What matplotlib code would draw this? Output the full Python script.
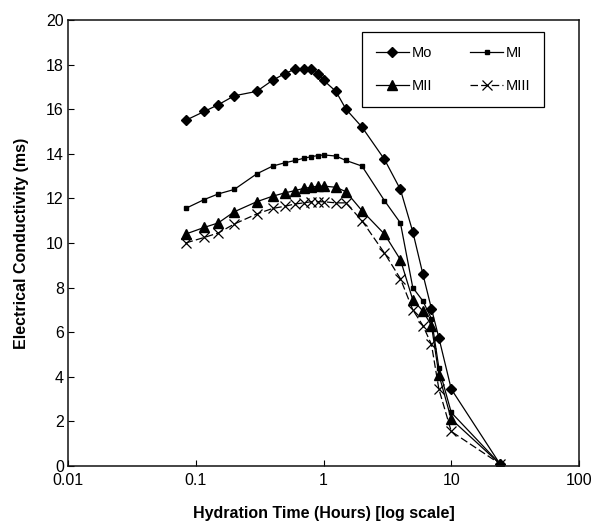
import matplotlib
matplotlib.use("Agg")
import matplotlib.pyplot as plt
from matplotlib.ticker import FixedLocator, FixedFormatter, NullLocator

plt.rcParams['font.family'] = ['Liberation Sans', 'DejaVu Sans']

# Hydration time (hours)
hours = [0.0833, 0.1167, 0.15, 0.2, 0.3, 0.4, 0.5, 0.6, 0.7, 0.8, 0.9, 1.0,
         1.25, 1.5, 2, 3, 4, 5, 6, 7, 8, 10, 24]

mo   = [15.5, 15.9, 16.2, 16.6, 16.8, 17.3, 17.6, 17.8, 17.8, 17.8, 17.6, 17.3,
        16.8, 16.0, 15.2, 13.75, 12.4, 10.5, 8.6, 7.05, 5.75, 3.45, 0.1]
mi   = [11.55, 11.95, 12.2, 12.4, 13.1, 13.45, 13.6, 13.7, 13.8, 13.87, 13.92, 13.95,
        13.9, 13.7, 13.45, 11.9, 10.9, 8.0, 7.4, 6.6, 4.4, 2.4, 0.1]
mii  = [10.4, 10.7, 10.9, 11.4, 11.85, 12.1, 12.25, 12.35, 12.45, 12.5, 12.55, 12.55,
        12.5, 12.3, 11.45, 10.4, 9.25, 7.45, 6.95, 6.3, 4.1, 2.1, 0.1]
miii = [10.0, 10.25, 10.45, 10.85, 11.3, 11.55, 11.65, 11.75, 11.8, 11.85, 11.85, 11.85,
        11.8, 11.8, 11.0, 9.55, 8.4, 7.0, 6.3, 5.45, 3.45, 1.55, 0.1]

x_ticks = [0.01, 0.1, 1, 10, 100]
x_tick_labels = ['0.01', '0.1', '1', '10', '100']
y_ticks = [0, 2, 4, 6, 8, 10, 12, 14, 16, 18, 20]

fig = plt.figure(figsize=(5.95, 5.26), dpi=100)
ax = fig.add_axes([68/595, 1-466/526, (579-68)/595, (466-20)/526])

lw = 0.9
l_mo, = ax.plot(hours, mo, color='black', lw=lw, marker='D', ms=5.6, label='Mo')
l_mi, = ax.plot(hours, mi, color='black', lw=lw, marker='s', ms=3.2, label='MI')
l_mii, = ax.plot(hours, mii, color='black', lw=lw, marker='^', ms=6.8, label='MII')
l_miii, = ax.plot(hours, miii, color='black', lw=lw, marker='x', ms=6.8,
                  markeredgewidth=0.9, linestyle=(0, (6, 2.5)), label='MIII')

ax.set_xscale('log')
ax.set_xlim(0.01, 100)
ax.set_ylim(0, 20)
ax.xaxis.set_major_locator(FixedLocator(x_ticks))
ax.xaxis.set_major_formatter(FixedFormatter(x_tick_labels))
ax.xaxis.set_minor_locator(NullLocator())
ax.set_yticks(y_ticks)
ax.tick_params(direction='in', length=4, width=0.8, labelsize=11.5, colors='black')
ax.tick_params(axis='x', pad=5)
ax.tick_params(axis='y', pad=3)
for s in ax.spines.values():
    s.set_linewidth(1.1)
    s.set_color('#111111')

ax.set_xlabel('Hydration Time (Hours) [log scale]', fontsize=11.5, fontweight='bold', labelpad=13)
ax.set_ylabel('Electrical Conductivity (ms)', fontsize=11.5, fontweight='bold', labelpad=12)

leg = ax.legend(handles=[l_mo, l_mii, l_mi, l_miii], ncol=2, loc='upper left',
                bbox_to_anchor=(0.575, 0.973), borderaxespad=0, fontsize=10.5,
                frameon=True, fancybox=False, edgecolor='black', framealpha=1,
                handlelength=2.3, handletextpad=0.15, columnspacing=2.6,
                labelspacing=1.3, borderpad=0.95)
leg.get_frame().set_linewidth(0.9)

fig.savefig('out.png', dpi=100)
